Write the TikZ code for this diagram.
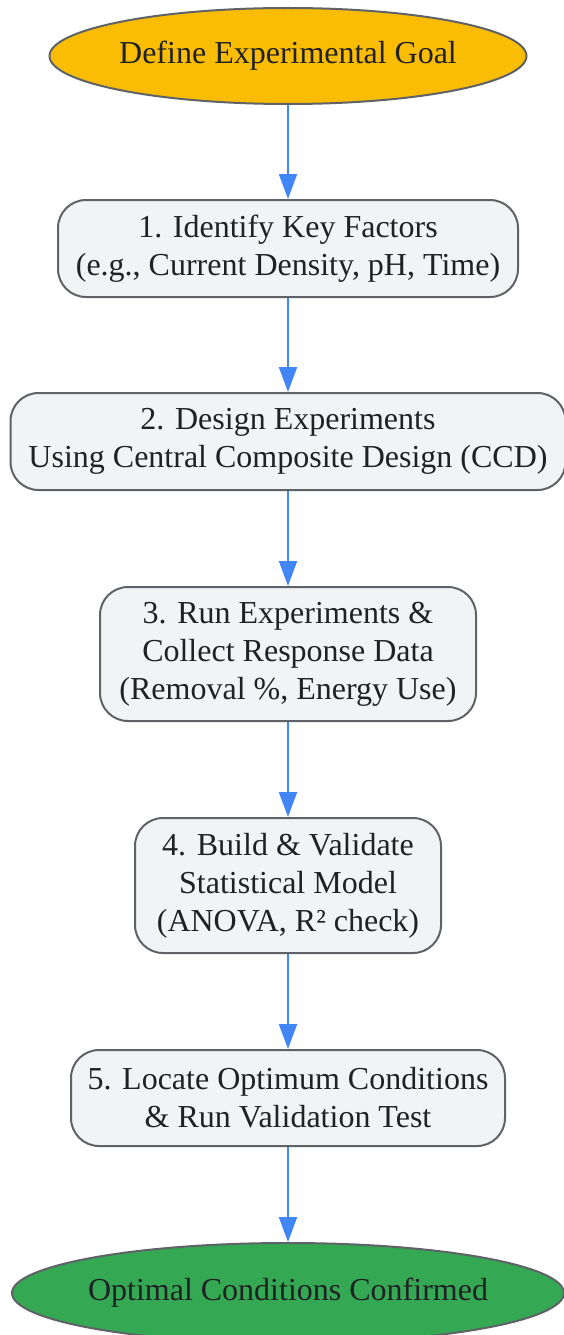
\documentclass[tikz,border=0pt]{standalone}
\usepackage{fontspec}
\setmainfont{Liberation Serif}
\usetikzlibrary{shapes.geometric,arrows.meta}

\definecolor{goalyellow}{HTML}{FBBC04}
\definecolor{donegreen}{HTML}{34A853}
\definecolor{stepfill}{HTML}{F1F3F4}
\definecolor{stepline}{HTML}{5F6368}
\definecolor{flowblue}{HTML}{4285F4}
\definecolor{inktext}{HTML}{202124}

\tikzset{
  stepbox/.style={draw=stepline, line width=2pt, fill=stepfill, rounded corners=28pt,
    align=center, inner sep=0pt, text=inktext, font=\fontsize{32}{38}\selectfont},
  endcap/.style={draw=stepline, line width=2pt, ellipse, inner xsep=-40pt, inner ysep=0pt,
    text=inktext, font=\fontsize{32}{38}\selectfont},
  flow/.style={draw=flowblue, line width=2pt, -{Triangle[length=25pt,width=18pt]}}
}

\begin{document}
\begin{tikzpicture}[x=1pt,y=1pt]

\useasboundingbox (0,0) rectangle (563,-1335);

\coordinate (A) at (288,-56);
\coordinate (B) at (288,-248.5);
\coordinate (C) at (288,-441.5);
\coordinate (D) at (288,-654);
\coordinate (E) at (288,-885.5);
\coordinate (F) at (288,-1098);
\coordinate (G) at (288,-1293);

\node[endcap, fill=goalyellow, minimum width=477pt, minimum height=96pt] (goal) at (A) {Define Experimental Goal};
\node[stepbox, minimum width=460pt, minimum height=97pt] (s1) at (B) {1. Identify Key Factors\\(e.g., Current Density, pH, Time)};
\node[stepbox, minimum width=555pt, minimum height=97pt] (s2) at (C) {2. Design Experiments\\Using Central Composite Design (CCD)};
\node[stepbox, minimum width=376pt, minimum height=134pt] (s3) at (D) {3. Run Experiments \&\\Collect Response Data\\(Removal \%, Energy Use)};
\node[stepbox, minimum width=306pt, minimum height=135pt] (s4) at (E) {4. Build \& Validate\\Statistical Model\\(ANOVA, R² check)};
\node[stepbox, minimum width=434pt, minimum height=96pt] (s5) at (F) {5. Locate Optimum Conditions\\\& Run Validation Test};
\node[endcap, fill=donegreen, minimum width=552pt, minimum height=100pt] (done) at (G) {Optimal Conditions Confirmed};

\draw[flow] (goal) -- (s1);
\draw[flow] (s1) -- (s2);
\draw[flow] (s2) -- (s3);
\draw[flow] (s3) -- (s4);
\draw[flow] (s4) -- (s5);
\draw[flow] (s5) -- (done);

\end{tikzpicture}
\end{document}
